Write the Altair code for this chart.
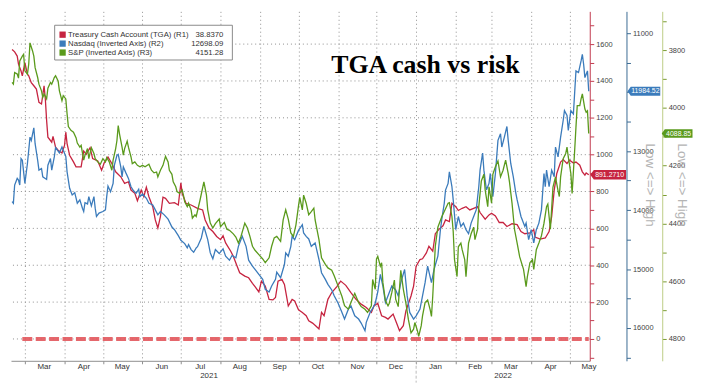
import altair as alt
import pandas as pd

BASE = pd.Timestamp("2021-03-01")          # day 0 of the day offsets below
X_DOMAIN = ["2021-02-18T03:00:00", "2022-05-16T19:00:00"]

# (day offset from 2021-03-01, value)
tga = [(-10,1571),(-8,1558),(-6,1535),(-5,1491),(-3,1454),(-2,1428),(0,1499),(2,1437),(3,1428),(5,1391),(7,1374),(9,1356),(11,1284),(13,1275),(15,1374),(16,1302),(17,1185),(18,1095),(21,1068),(22,1099),(24,1041),(26,1024),(29,1009),(31,1050),(32,1122),(33,1060),(35,997),(38,961),(40,934),(44,934),(46,1020),(48,1002),(51,1038),(53,979),(57,966),(60,916),(62,955),(65,987),(68,952),(71,907),(75,880),(78,844),(81,853),(83,808),(86,790),(88,750),(91,808),(93,772),(95,823),(97,772),(100,718),(102,646),(104,602),(106,664),(108,769),(110,763),(113,736),(117,740),(120,727),(122,847),(123,790),(126,736),(130,727),(135,709),(139,700),(141,646),(144,602),(147,583),(150,556),(153,539),(155,560),(157,521),(161,476),(163,449),(166,395),(168,359),(172,341),(175,332),(178,302),(180,284),(183,255),(185,314),(188,287),(191,215),(194,212),(196,225),(198,314),(201,323),(203,296),(206,179),(209,215),(211,206),(214,158),(217,144),(220,126),(222,99),(225,86),(228,68),(230,54),(232,144),(234,126),(237,215),(240,252),(244,284),(247,314),(251,291),(255,252),(259,215),(263,189),(267,171),(271,144),(273,179),(276,194),(279,126),(282,117),(284,108),(288,135),(291,81),(293,45),(296,72),(298,152),(302,233),(304,287),(306,395),(309,431),(311,435),(314,467),(316,503),(319,476),(321,571),(324,596),(327,614),(329,646),(332,637),(334,736),(337,718),(339,697),(342,709),(345,718),(348,700),(351,709),(354,718),(356,686),(360,650),(363,673),(365,682),(368,668),(371,632),(374,632),(377,610),(381,625),(385,620),(388,583),(391,571),(395,575),(398,593),(399,553),(403,542),(407,548),(410,583),(412,664),(414,808),(416,898),(419,960),(421,973),(424,952),(426,970),(429,955),(431,960),(434,943),(436,907),(438,889),(439,901),(441,891.271)]

ndx = [(-10,13857),(-9,13884),(-8,13576),(-6,13463),(-5,13492),(-4,13576),(-3,13126),(-2,13155),(0,13547),(2,13210),(4,12763),(5,12818),(7,12604),(8,12874),(10,13155),(11,13323),(13,13295),(14,13436),(17,13480),(18,13239),(20,13126),(21,13323),(23,13099),(24,12941),(27,13032),(29,12931),(30,12987),(32,13088),(33,13352),(35,13631),(37,13744),(39,13705),(41,13884),(43,13828),(45,13968),(46,14025),(47,13874),(49,13896),(50,13773),(52,13929),(54,13773),(55,13968),(56,14109),(58,14052),(61,14025),(63,13997),(64,13773),(65,13593),(67,13689),(69,13547),(70,13239),(72,13071),(73,13054),(75,13268),(76,13436),(77,13268),(79,13369),(81,13463),(83,13604),(85,13672),(87,13715),(89,13648),(90,13773),(92,13727),(95,13800),(97,13884),(100,13912),(102,13997),(104,14081),(106,14025),(109,14081),(112,14153),(115,14288),(117,14333),(120,14434),(122,14513),(125,14569),(127,14641),(128,14586),(130,14670),(132,14716),(134,14641),(135,14620),(138,14473),(140,14278),(143,14502),(145,14726),(147,14827),(149,14670),(152,14737),(155,14658),(157,14783),(160,14850),(162,14771),(165,14810),(167,14615),(170,14446),(173,14615),(175,14850),(178,14951),(180,15007),(183,15091),(186,15175),(188,15343),(191,15389),(193,15288),(196,15175),(197,15052),(200,15146),(203,14923),(204,14726),(206,14783),(208,14615),(209,14446),(211,14502),(214,14345),(217,14249),(218,14389),(220,14446),(222,14490),(224,14615),(227,14557),(230,14838),(232,15062),(235,15175),(237,15259),(240,15355),(242,15456),(245,15579),(248,15736),(250,15848),(253,15680),(255,15625),(258,15793),(261,15848),(263,15916),(266,16045),(267,15904),(270,15736),(272,15668),(274,15579),(276,15389),(278,15091),(280,15288),(282,15567),(285,15399),(287,15288),(290,15355),(292,15456),(294,15231),(297,15007),(299,15456),(301,15736),(304,15848),(306,15793),(309,15680),(311,15456),(313,15231),(315,14951),(318,15231),(320,15007),(323,14783),(325,14333),(326,14165),(328,13884),(329,13660),(331,13547),(332,13352),(334,13604),(335,13828),(337,14333),(339,14109),(341,14278),(343,14221),(345,14333),(347,14401),(349,14221),(351,14109),(353,13997),(355,13604),(356,13323),(358,13032),(359,13323),(361,13660),(363,13547),(364,13379),(366,13773),(368,13379),(370,12818),(372,12705),(373,12931),(375,12763),(377,12582),(378,12818),(380,13210),(382,13436),(384,13715),(385,13828),(388,14109),(391,14278),(392,14221),(394,14502),(396,14333),(398,14557),(400,14333),(402,14221),(404,13997),(406,13379),(407,13604),(408,13323),(410,13604),(412,13323),(414,13436),(415,12931),(417,13099),(419,12763),(421,12481),(422,12313),(424,12397),(425,12650),(427,12313),(429,12369),(431,11640),(433,11668),(435,11471),(436,11359),(437,11527),(438,11753),(440,11640),(441,11984.52)]

spx = [(-10,3912),(-9,3918),(-8,3878),(-6,3883),(-5,3897),(-4,3838),(-2,3821),(-1,3815),(0,3872),(2,3883),(3,3849),(4,3775),(6,3803),(7,3821),(8,3861),(10,3895),(11,3918),(13,3941),(14,3964),(15,3952),(17,3969),(18,3932),(20,3912),(21,3918),(23,3895),(24,3889),(26,3907),(27,3941),(29,3975),(30,3958),(32,3969),(33,4021),(34,4065),(36,4078),(38,4084),(40,4103),(41,4122),(43,4136),(44,4130),(46,4181),(47,4164),(49,4141),(50,4176),(52,4138),(54,4158),(55,4176),(57,4187),(59,4195),(61,4176),(63,4187),(64,4172),(66,4187),(68,4216),(69,4181),(71,4141),(72,4113),(73,4061),(74,4090),(76,4136),(77,4164),(78,4141),(80,4115),(81,4136),(83,4170),(84,4193),(86,4187),(88,4199),(90,4204),(92,4199),(94,4204),(97,4195),(99,4216),(101,4225),(103,4222),(104,4239),(106,4216),(108,4199),(110,4168),(112,4187),(113,4216),(115,4230),(116,4256),(118,4273),(119,4290),(121,4296),(123,4284),(124,4302),(125,4325),(127,4342),(128,4330),(130,4353),(131,4382),(133,4370),(134,4376),(137,4319),(140,4256),(142,4302),(143,4353),(145,4399),(147,4416),(149,4401),(152,4385),(153,4411),(156,4397),(158,4420),(160,4424),(163,4436),(165,4447),(167,4468),(169,4445),(172,4399),(174,4416),(176,4445),(178,4479),(180,4493),(183,4508),(186,4523),(188,4536),(191,4519),(193,4479),(195,4450),(197,4445),(200,4462),(202,4388),(204,4353),(206,4385),(208,4433),(210,4445),(212,4405),(214,4339),(215,4310),(217,4353),(218,4302),(220,4330),(222,4370),(224,4359),(226,4347),(227,4388),(230,4456),(232,4519),(235,4542),(237,4554),(240,4562),(242,4582),(245,4617),(248,4653),(250,4685),(253,4697),(255,4674),(258,4642),(261,4674),(263,4688),(266,4697),(268,4708),(271,4685),(272,4594),(274,4628),(275,4523),(276,4514),(278,4548),(279,4536),(280,4605),(282,4668),(284,4685),(285,4676),(287,4639),(289,4596),(290,4662),(292,4688),(294,4562),(296,4628),(298,4676),(300,4734),(302,4779),(304,4766),(305,4743),(307,4771),(308,4791),(310,4754),(311,4720),(313,4674),(315,4665),(317,4699),(318,4722),(319,4651),(321,4479),(323,4413),(326,4378),(328,4359),(331,4330),(332,4328),(334,4376),(335,4428),(336,4525),(338,4584),(339,4481),(341,4468),(342,4491),(344,4525),(345,4584),(347,4468),(349,4436),(351,4413),(352,4456),(354,4422),(355,4342),(357,4253),(359,4230),(360,4284),(362,4342),(363,4273),(365,4330),(366,4230),(368,4204),(370,4184),(372,4239),(374,4216),(376,4181),(378,4227),(379,4256),(381,4330),(383,4422),(385,4468),(387,4516),(390,4559),(392,4619),(393,4584),(395,4536),(397,4525),(398,4559),(400,4491),(402,4468),(404,4443),(406,4399),(408,4342),(409,4333),(411,4420),(413,4275),(415,4239),(417,4287),(418,4307),(419,4239),(421,4176),(423,4158),(424,4136),(425,4170),(427,4227),(428,4296),(430,4147),(431,4067),(432,3992),(434,3992),(435,3969),(436,3952),(438,4004),(439,4015),(440,4010),(441,4088.85)]

legend_names = ["Treasury Cash Account (TGA) (R1)", "Nasdaq (Inverted Axis) (R2)", "S&P (Inverted Axis) (R3)"]
legend_values = ["38.8370", "12698.09", "4151.28"]
series_colors = ["#c62440", "#3b7bbb", "#5a9a1c"]
hgrid_values = [0, 200, 400, 600, 800, 1000, 1200, 1400, 1600]
zero_line_days = [-2, 441]
year_labels = ["2021", "2022"]
year_label_dates = ["2021-07-23", "2022-03-10"]
year_break = ["2022-01-01"]
title_text = "TGA cash vs risk"
side_note = "Low <=> High"

FONT = "Liberation Sans"
W, H = 583, 352
BADGE = "M-1,0L-0.8,-0.27L1,-0.27L1,0.27L-0.8,0.27Z"


def frame(pairs):
    days, vals = zip(*pairs)
    return pd.DataFrame({"date": BASE + pd.to_timedelta(list(days), unit="D"), "v": list(vals)})


df_tga, df_ndx, df_spx = frame(tga), frame(ndx), frame(spx)
one = pd.DataFrame({"k": [0]})

x_axis = alt.Axis(
    format="%b", tickCount={"interval": "month", "step": 1}, labelOffset=19,
    grid=True, gridDash=[1, 3], gridColor="#8f8f8f", gridWidth=1,
    domainColor="#8f8f8f", tickColor="#8f8f8f", tickSize=3, labelPadding=3,
    labelBaseline="middle", labelFontSize=8, labelColor="#333", labelFont=FONT,
    labelOverlap=False, labelBound=False, labelFlush=False, title=None)


def X():
    return alt.X("date:T", scale=alt.Scale(domain=X_DOMAIN), axis=x_axis)


red_scale = alt.Scale(domain=[-118.5, 1777.7], nice=False, zero=False)
blue_scale = alt.Scale(domain=[10630, 16556], reverse=True, nice=False, zero=False)
green_scale = alt.Scale(domain=[3666, 4875.5], reverse=True, nice=False, zero=False)


def axis(values, label_test, dom_color, tick_color, offset):
    return alt.Axis(orient="right", offset=offset, values=values, format="d",
                    labelExpr=f"{label_test} ? datum.label : ''",
                    grid=False, domainColor=dom_color, tickColor=tick_color, tickSize=4,
                    labelFontSize=7.5, labelColor="#444", labelFont=FONT, labelPadding=2,
                    labelOverlap=False, labelBaseline="middle", title=None, zindex=0)


red_axis = axis(list(range(-100, 1800, 100)), "datum.value % 200 == 0",
                "#c23b50", "#c23b50", 0)
# the 12000 label sits under the last-value badge in the reference
blue_axis = axis(list(range(10500, 16600, 500)),
                 "datum.value % 1000 == 0 && datum.value != 12000",
                 "#3b6b93", "#3b6b93", 37)
green_axis = axis(list(range(3700, 4900, 100)), "datum.value % 200 == 0",
                  "#bccd85", "#7a9a30", 73)


def Y(field, scale, ax):
    return alt.Y(field, scale=scale, axis=ax, title=None)


def group(df, scale, ax, color, badge_x, badge_size, fmt, extra):
    line = alt.Chart(df).mark_line(color=color, strokeWidth=1.3).encode(
        x=X(), y=Y("v:Q", scale, ax))
    last = df.tail(1)
    badge = alt.Chart(last).mark_point(shape=BADGE, filled=True, size=badge_size,
                                       color=color, opacity=1, strokeWidth=0).encode(
        x=alt.value(badge_x), y=Y("v:Q", scale, ax))
    btext = alt.Chart(last).mark_text(color="white", fontSize=7, font=FONT,
                                      align="center", baseline="middle", dx=1.5).encode(
        x=alt.value(badge_x), y=Y("v:Q", scale, ax),
        text=alt.Text("v:Q", format=fmt))
    return alt.layer(*extra, line, badge, btext)


hgrid = alt.Chart(pd.DataFrame({"g": hgrid_values})).mark_rule(
    color="#8f8f8f", strokeDash=[1, 3], strokeWidth=1).encode(
    y=Y("g:Q", red_scale, red_axis))
zero_df = pd.DataFrame({"date": BASE + pd.to_timedelta(zero_line_days, unit="D"), "z": [0, 0]})
zero_line = alt.Chart(zero_df).mark_line(color="#e2575c", strokeWidth=4,
                                         strokeDash=[10, 3.5], opacity=0.9).encode(
    x=X(), y=Y("z:Q", red_scale, red_axis))

red_group = group(df_tga, red_scale, red_axis, series_colors[0], 601.5, 1296, ".4f",
                  [hgrid, zero_line])
blue_group = group(df_ndx, blue_scale, blue_axis, series_colors[1], 637.5, 1089, ".2f", [])
green_group = group(df_spx, green_scale, green_axis, series_colors[2], 671, 961, ".2f", [])

# legend box
ann = [alt.Chart(one).mark_rect(fill="white", stroke="#8a8a8a", strokeWidth=1).encode(
    x=alt.value(44), x2=alt.value(223), y=alt.value(14), y2=alt.value(49))]
for i, (name, val, col) in enumerate(zip(legend_names, legend_values, series_colors)):
    yy = 23.5 + 9 * i
    ann.append(alt.Chart(one).mark_square(size=40, color=col, opacity=1).encode(
        x=alt.value(52), y=alt.value(yy)))
    ann.append(alt.Chart(one).mark_text(text=name, align="left", baseline="middle",
                                        fontSize=7.8, font=FONT, color="#333").encode(
        x=alt.value(57.5), y=alt.value(yy)))
    ann.append(alt.Chart(one).mark_text(text=val, align="right", baseline="middle",
                                        fontSize=7.8, font=FONT, color="#333").encode(
        x=alt.value(214), y=alt.value(yy)))

# title
ann.append(alt.Chart(one).mark_text(text=title_text, font="Liberation Serif",
                                    fontWeight="bold", fontSize=26, color="#000",
                                    align="center", baseline="alphabetic").encode(
    x=alt.value(417.5), y=alt.value(62)))

# "Low <=> High" side notes
for xx in (644, 676):
    ann.append(alt.Chart(one).mark_text(text=side_note, angle=90, fontSize=13.5, font=FONT,
                                        color="#b4b4b4", align="center", baseline="middle").encode(
        x=alt.value(xx), y=alt.value(175)))

# year labels and year break
yl = pd.DataFrame({"date": pd.to_datetime(year_label_dates), "t": year_labels})
ann.append(alt.Chart(yl).mark_text(fontSize=8, font=FONT, color="#333", baseline="middle").encode(
    x=X(), y=alt.value(367), text="t:N"))
yb = pd.DataFrame({"date": pd.to_datetime(year_break)})
ann.append(alt.Chart(yb).mark_rule(color="#bbbbbb", strokeDash=[3, 2], strokeWidth=1).encode(
    x=X(), y=alt.value(352), y2=alt.value(374)))

chart = alt.layer(red_group, blue_group, green_group, *ann).resolve_scale(
    y="independent").properties(
    width=W, height=H, padding={"left": 1, "top": 2, "right": 0, "bottom": 0},
    background="white").configure_view(stroke=None)

chart.save("out.html", embed_options={"renderer": "svg", "actions": False})
